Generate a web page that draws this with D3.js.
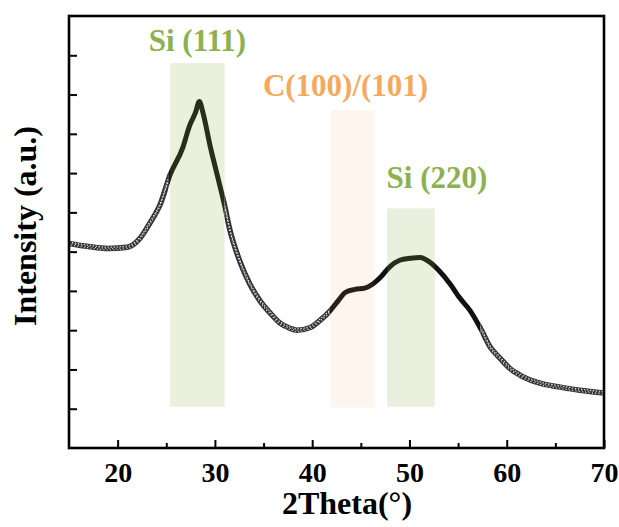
<!DOCTYPE html>
<html>
<head>
<meta charset="utf-8">
<script src="https://cdn.jsdelivr.net/npm/d3@7/dist/d3.min.js"></script>
<style>
    body { margin: 0; background: #fff; }
    svg { display: block; }
    text { font-family: "Liberation Serif", "Times New Roman", "DejaVu Serif", serif; font-weight: bold; }
</style>
</head>
<body>
<svg id="xrd" width="619" height="527"></svg>
<script>
// 2theta (deg) and intensity (a.u.)
var twoTheta = [15, 17, 19, 21, 22.3, 23.3, 24.4, 25.4, 26.7, 27.4, 28, 28.4, 28.8, 29.5, 30.3, 31, 31.5,
    32.6, 33.6, 34.6, 35.7, 36.7, 37.7, 38.4, 39.8, 40.8, 41.8, 42.7, 43.4, 44.4, 45.4, 46.2, 47,
    48, 49, 50.1, 51.1, 52.1, 53.1, 54.2, 55.2, 56.2, 57.3, 58.3, 59.3, 60.3, 61.4, 63.4, 65.5, 67.5, 70];
var intensity = [5.21, 5.13, 5.08, 5.11, 5.34, 5.72, 6.22, 6.96, 7.65, 8.21, 8.54, 8.82, 8.51, 7.70, 6.89, 6.17, 5.59,
    4.73, 4.17, 3.76, 3.43, 3.18, 3.05, 3.00, 3.07, 3.25, 3.48, 3.76, 3.96, 4.04, 4.07, 4.17, 4.34,
    4.62, 4.78, 4.83, 4.85, 4.73, 4.50, 4.17, 3.81, 3.51, 3.05, 2.57, 2.29, 2.03, 1.85, 1.65, 1.55, 1.47, 1.40];

var xTicks = [20, 30, 40, 50, 60, 70];
var xMinorTicks = [25, 35, 45, 55, 65];
var yTicks = [1, 2, 3, 4, 5, 6, 7, 8, 9, 10];

// highlighted reflections
var bandNames = ['Si (111)', 'C(100)/(101)', 'Si (220)'];
var bandStart = [25.4, 41.9, 47.7];
var bandEnd = [31.0, 46.4, 52.6];
var bandTop = [9.8, 8.6, 6.1];
var bandBottom = [1.05, 1.03, 1.05];

var serif = '"Liberation Serif", "Times New Roman", "DejaVu Serif", serif';

class XrdChart {
    constructor(id){
        this.svg = d3.select('svg#' + id);
        this.left = 69;
        this.right = 604;
        this.top = 16;
        this.bottom = 448;
        this.tickFont = 28;
        this.titleFont = 32;
        this.labelFont = 31;
        this.bandColors = ['#8db151', '#f6a95c', '#8db151'];
        this.bandOpacity = [0.19, 0.1, 0.19];
        this.labelDx = [0, -7, 26];
        this.labelGap = [12, 14, 20];
        // parts of the pattern where the markers are sparse enough to look speckled
        this.speckled = [[15, 25.2], [31.0, 41.8], [57.3, 70]];
        this.x = d3.scaleLinear().domain([15, 70]).range([this.left, this.right]);
        this.y = d3.scaleLinear().domain([0, 11]).range([this.bottom, this.top]);
    }

    Draw(){
        this.DrawCurve();
        this.DrawBands();
        this.DrawAxes();
        this.DrawFrame();
        this.DrawTitles();
    }

    // the measured pattern
    DrawCurve(){
        var self = this;
        var points = twoTheta.map(function(t, i){ return [t, intensity[i]]; });
        var line = d3.line()
            .x(function(d){ return self.x(d[0]); })
            .y(function(d){ return self.y(d[1]); })
            .curve(d3.curveMonotoneX);

        var clip = this.svg.append('clipPath').attr('id', 'speckle');
        clip.selectAll('rect')
            .data(this.speckled)
            .enter()
            .append('rect')
            .attr('x', function(d){ return self.x(d[0]); })
            .attr('width', function(d){ return self.x(d[1]) - self.x(d[0]); })
            .attr('y', this.top)
            .attr('height', this.bottom - this.top);

        var solid = this.svg.append('clipPath').attr('id', 'solid');
        solid.selectAll('rect')
            .data([[this.speckled[0][1], this.speckled[1][0]], [this.speckled[1][1], this.speckled[2][0]]])
            .enter()
            .append('rect')
            .attr('x', function(d){ return self.x(d[0]); })
            .attr('width', function(d){ return self.x(d[1]) - self.x(d[0]); })
            .attr('y', this.top)
            .attr('height', this.bottom - this.top);

        // dense part: markers merge into a solid band
        this.svg.append('path')
            .datum(points)
            .attr('d', line)
            .attr('clip-path', 'url(#solid)')
            .style('fill', 'none')
            .style('stroke', '#111')
            .style('stroke-width', 5);

        // sparse part: grey band of open markers
        var tail = this.svg.append('g').attr('clip-path', 'url(#speckle)');
        tail.append('path')
            .datum(points)
            .attr('d', line)
            .style('fill', 'none')
            .style('stroke', '#333')
            .style('stroke-width', 5.5);

        var holes = [[-1.3, '1.3 1.7', 0], [1.3, '1 2.3', 1.5], [0, '0.8 2.6', 0.7]];
        tail.selectAll('path.hole')
            .data(holes)
            .enter()
            .append('path')
            .attr('class', 'hole')
            .datum(function(h){ return h; })
            .attr('transform', function(h){ return 'translate(0,' + h[0] + ')'; })
            .attr('d', function(){ return line(points); })
            .style('fill', 'none')
            .style('stroke', '#fff')
            .style('stroke-width', 1.1)
            .style('stroke-dasharray', function(h){ return h[1]; })
            .style('stroke-dashoffset', function(h){ return h[2]; })
            .style('opacity', 0.9);
    }

    // shaded reflection windows and their labels
    DrawBands(){
        var self = this;
        var g = this.svg.append('g').selectAll('g')
            .data(bandNames)
            .enter()
            .append('g');

        g.append('rect')
            .attr('x', function(d, i){ return self.x(bandStart[i]); })
            .attr('width', function(d, i){ return self.x(bandEnd[i]) - self.x(bandStart[i]); })
            .attr('y', function(d, i){ return self.y(bandTop[i]); })
            .attr('height', function(d, i){ return self.y(bandBottom[i]) - self.y(bandTop[i]); })
            .style('fill', function(d, i){ return self.bandColors[i]; })
            .style('fill-opacity', function(d, i){ return self.bandOpacity[i]; });

        g.append('text')
            .attr('x', function(d, i){ return (self.x(bandStart[i]) + self.x(bandEnd[i])) / 2 + self.labelDx[i]; })
            .attr('y', function(d, i){ return self.y(bandTop[i]) - self.labelGap[i]; })
            .attr('text-anchor', 'middle')
            .attr('font-family', serif)
            .attr('font-weight', 'bold')
            .attr('font-size', this.labelFont)
            .style('fill', function(d, i){ return self.bandColors[i]; })
            .text(function(d){ return d; });
    }

    DrawAxes(){
        var xAxis = this.svg.append('g')
            .attr('transform', 'translate(0,' + this.bottom + ')')
            .call(d3.axisBottom(this.x).tickValues(xTicks).tickSize(-8).tickPadding(14));
        xAxis.attr('font-family', serif)
            .attr('font-weight', 'bold')
            .attr('font-size', this.tickFont);
        xAxis.selectAll('text').style('fill', '#000');

        var xMinor = this.svg.append('g')
            .attr('transform', 'translate(0,' + this.bottom + ')')
            .call(d3.axisBottom(this.x).tickValues(xMinorTicks).tickSize(-5).tickFormat(''));

        var yAxis = this.svg.append('g')
            .attr('transform', 'translate(' + this.left + ',0)')
            .call(d3.axisLeft(this.y).tickValues(yTicks).tickSize(-8).tickFormat(''));

        [xAxis, xMinor, yAxis].forEach(function(a){
            a.select('.domain').remove();
            a.selectAll('line').style('stroke', '#000').style('stroke-width', 2);
        });
    }

    // box round the plot
    DrawFrame(){
        this.svg.append('rect')
            .attr('x', this.left)
            .attr('y', this.top)
            .attr('width', this.right - this.left)
            .attr('height', this.bottom - this.top)
            .style('fill', 'none')
            .style('stroke', '#000')
            .style('stroke-width', 2.6);
    }

    DrawTitles(){
        this.svg.append('text')
            .attr('x', 347)
            .attr('y', 514)
            .attr('text-anchor', 'middle')
            .attr('font-family', serif)
            .attr('font-weight', 'bold')
            .attr('font-size', this.titleFont)
            .text('2Theta(°)');

        this.svg.append('text')
            .attr('transform', 'translate(36,226) rotate(-90)')
            .attr('text-anchor', 'middle')
            .attr('font-family', serif)
            .attr('font-weight', 'bold')
            .attr('font-size', this.titleFont)
            .text('Intensity (a.u.)');
    }
}

var chart = new XrdChart('xrd');
chart.Draw();
</script>
</body>
</html>
